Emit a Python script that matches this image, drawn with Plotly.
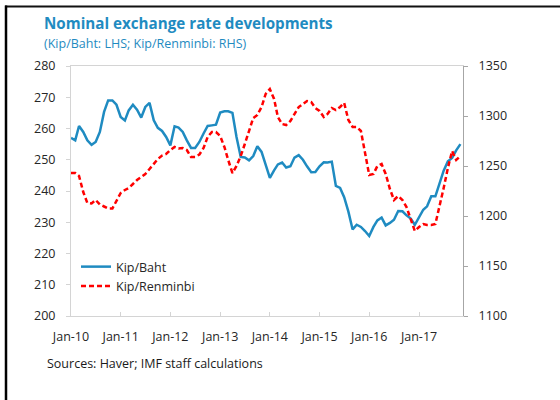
import plotly.graph_objects as go

# Monthly observations, Jan-2010 to Nov-2017
months = [f"{2010 + i // 12}-{i % 12 + 1:02d}-01" for i in range(95)]

kip_baht = [
    257.0, 256.2, 260.8, 258.9, 256.2, 254.8, 255.7, 258.9, 265.3, 269.0,
    269.0, 267.6, 263.7, 262.6, 265.8, 267.6, 266.0, 263.5, 266.9, 268.2,
    262.6, 260.2, 259.2, 257.3, 254.6, 260.7, 260.3, 258.9, 256.2, 253.8,
    253.8, 255.7, 258.4, 260.8, 261.0, 261.2, 265.1, 265.5, 265.5, 265.0,
    257.3, 250.9, 250.7, 249.8, 251.2, 254.3, 252.5, 248.2, 244.2, 246.6,
    248.5, 249.1, 247.5, 247.9, 250.7, 251.5, 250.0, 247.9, 246.0, 246.1,
    247.9, 249.2, 249.1, 249.4, 241.6, 241.0, 238.0, 233.4, 227.7, 229.2,
    228.5, 227.2, 225.6, 228.5, 230.6, 231.5, 229.0, 229.8, 230.8, 233.6,
    233.5, 232.2, 231.2, 229.2, 231.5, 234.0, 235.1, 238.3, 238.3, 242.2,
    246.5, 249.5, 250.6, 253.0, 255.0,
]

kip_renminbi = [
    1243, 1243, 1240, 1224, 1213, 1212.5, 1216, 1211.5, 1209.5, 1207.5,
    1207.5, 1215, 1223, 1226, 1228, 1232, 1236, 1239, 1242, 1247,
    1252, 1257, 1260.5, 1262, 1266, 1269, 1267.5, 1268, 1266, 1259,
    1259, 1261.5, 1268, 1279, 1284, 1284, 1280, 1269, 1256, 1243,
    1250, 1260, 1272, 1286, 1298, 1301, 1309, 1322, 1327, 1317,
    1299, 1292, 1291, 1295, 1302, 1309, 1312, 1315, 1314, 1308,
    1305, 1299, 1302, 1308, 1306, 1309, 1313, 1296, 1289, 1289,
    1285, 1265, 1241, 1242, 1250, 1252, 1242, 1227, 1216, 1220,
    1216, 1209, 1197, 1185, 1189, 1192, 1191, 1191, 1192, 1209,
    1228, 1248, 1265, 1256, 1260,
]

year_ticks = [f"{y}-01-01" for y in range(2010, 2018)]
year_labels = [f"Jan-{y % 100:02d}" for y in range(2010, 2018)]

FONT = "Open Sans"
BLUE = "#1f8bc1"
AXIS_GREY = "#d4d4d4"

# plot-area geometry in pixels
L, R, T, B = 71, 463, 66, 316
W, H = 560, 400


def px(x):
    return (x - L) / (R - L)


def py(y):
    return (B - y) / (B - T)


fig = go.Figure()
fig.add_trace(go.Scatter(
    x=months, y=kip_baht, name="Kip/Baht", mode="lines",
    line=dict(color=BLUE, width=2.5),
))
fig.add_trace(go.Scatter(
    x=months, y=kip_renminbi, name="Kip/Renminbi", mode="lines",
    line=dict(color="#ff0000", width=2.5, dash="5px,3px"), yaxis="y2",
))

fig.update_layout(
    width=W, height=H,
    margin=dict(l=L, r=W - R, t=T, b=H - B, pad=0),
    paper_bgcolor="white", plot_bgcolor="white",
    font=dict(family=FONT, size=12, color="#262626"),
    showlegend=True,
    legend=dict(
        x=px(76), y=py(252), xanchor="left", yanchor="top",
        bgcolor="rgba(0,0,0,0)", font=dict(size=12.5, color="#262626"),
        itemwidth=30, tracegroupgap=0,
    ),
    xaxis=dict(
        type="date", range=["2010-01-01", "2017-11-20"],
        tickvals=year_ticks, ticktext=year_labels,
        ticks="inside", ticklen=4, tickcolor=AXIS_GREY,
        showline=True, linecolor=AXIS_GREY, linewidth=1, mirror=True,
        showgrid=False, zeroline=False, ticklabelstandoff=9,
        tickfont=dict(size=12.5, color="#262626"),
    ),
    yaxis=dict(
        range=[200, 280], dtick=10,
        ticks="outside", ticklen=4, tickcolor=AXIS_GREY,
        showline=True, linecolor=AXIS_GREY, linewidth=1, mirror=True,
        showgrid=False, zeroline=False, ticklabelstandoff=8,
        tickfont=dict(size=12.5, color="#262626"),
    ),
    yaxis2=dict(
        range=[1100, 1350], dtick=50, overlaying="y", side="right",
        ticks="outside", ticklen=4, tickcolor="#a6a6a6",
        showline=True, linecolor="#a6a6a6", linewidth=1,
        showgrid=False, zeroline=False, ticklabelstandoff=8,
        tickfont=dict(size=12.5, color="#262626"),
    ),
)

fig.add_annotation(
    text="<b>Nominal exchange rate developments</b>",
    xref="paper", yref="paper", x=px(42), y=py(22.5),
    xanchor="left", yanchor="middle", showarrow=False,
    font=dict(family=FONT, size=15.2, color=BLUE),
)
fig.add_annotation(
    text="(Kip/Baht: LHS; Kip/Renminbi: RHS)",
    xref="paper", yref="paper", x=px(42), y=py(43.5),
    xanchor="left", yanchor="middle", showarrow=False,
    font=dict(family=FONT, size=12.5, color=BLUE),
)
fig.add_annotation(
    text="Sources: Haver; IMF staff calculations",
    xref="paper", yref="paper", x=px(45), y=py(363.5),
    xanchor="left", yanchor="middle", showarrow=False,
    font=dict(family=FONT, size=12.5, color="#1a1a1a"),
)

# outer frame (top and left edges)
fig.add_shape(type="line", xref="paper", yref="paper",
              x0=px(5), x1=px(560), y0=py(6.5), y1=py(6.5),
              line=dict(color="#111111", width=2))
fig.add_shape(type="line", xref="paper", yref="paper",
              x0=px(6), x1=px(6), y0=py(5.5), y1=py(400),
              line=dict(color="#000000", width=2.5))

fig.write_html("out.html")
